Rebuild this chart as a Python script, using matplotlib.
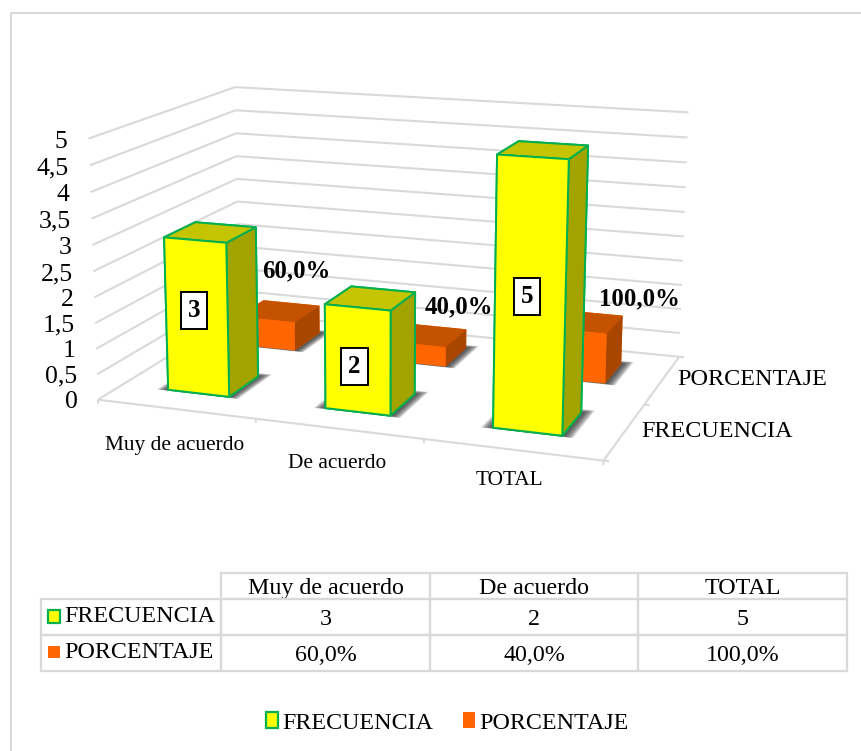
import numpy as np
import matplotlib
matplotlib.use('Agg')
import matplotlib.pyplot as plt
from matplotlib.patches import Patch, Rectangle
from mpl_toolkits.mplot3d.art3d import Poly3DCollection, Line3DCollection

# Data
categories = ['Muy de acuerdo', 'De acuerdo', 'TOTAL']
series_names = ['FRECUENCIA', 'PORCENTAJE']
frecuencia = [3, 2, 5]
porcentaje = [0.6, 0.4, 1.0]
frecuencia_labels = ['3', '2', '5']
porcentaje_labels = ['60,0%', '40,0%', '100,0%']
z_ticks = [0, 0.5, 1, 1.5, 2, 2.5, 3, 3.5, 4, 4.5, 5]
z_tick_labels = ['0', '0,5', '1', '1,5', '2', '2,5', '3', '3,5', '4', '4,5', '5']

W, H = 862, 751
plt.rcParams['font.family'] = ['Liberation Serif', 'DejaVu Serif']
GREY = '#d9d9d9'
YELLOW = ['#ffff00', '#c4c400', '#ffff00', '#ffff00', '#a3a300', '#a3a300']
ORANGE = ['#ff6600', '#c55200', '#ff6600', '#ff6600', '#a84600', '#a84600']
GREEN = '#00b050'

fig = plt.figure(figsize=(W / 100, H / 100), dpi=100, facecolor='white')
ax = fig.add_axes([0, 0, 1, 1], projection='3d')
ax.set_axis_off()
ax.computed_zorder = False
ax.patch.set_visible(False)

# Camera: least squares fit from the corners of the chart box to image pixels
n_cat, n_ser, z_max = len(categories), len(series_names), z_ticks[-1]
box = [(0, 0, 0, 100, 399), (n_cat, 0, 0, 603, 462), (n_cat, n_ser, 0, 680, 355),
       (0, n_ser, 0, 237, 314), (0, 0, z_max, 87, 138), (0, n_ser, z_max, 237, 87),
       (n_cat, n_ser, z_max, 688, 113)]
rows = []
for x, y, z, px, py in box:
    dy = (H - py) / 1000
    px = px / 1000
    rows.append([x, y, z, 1, 0, 0, 0, 0, -px * x, -px * y, -px * z, -px])
    rows.append([0, 0, 0, 0, x, y, z, 1, -dy * x, -dy * y, -dy * z, -dy])
P = np.linalg.svd(np.array(rows, dtype=float))[2][-1].reshape(3, 4)
if P[2, 3] < 0:
    P = -P
P = P / P[2, 3]
# depth grows away from the viewer, used only for sorting the faces
camera = np.array([P[0] * 1000, P[1] * 1000, P[2] - np.array([0, 0, 0, 0.5]), P[2]])


def get_proj():
    to_view = ax.transData.inverted().get_matrix()
    T = np.array([[to_view[0, 0], 0, 0, to_view[0, 2]],
                  [0, to_view[1, 1], 0, to_view[1, 2]],
                  [0, 0, 1, 0],
                  [0, 0, 0, 1]])
    return T @ camera


ax.get_proj = get_proj

# Overlay in pixel coordinates for the texts, frame and data table
ov = fig.add_axes([0, 0, 1, 1])
ov.set_xlim(0, W)
ov.set_ylim(H, 0)
ov.axis('off')
ov.patch.set_visible(False)


def label3d(x, y, z, s, **kw):
    # put a text at the image position of a chart coordinate
    v = np.array([x, y, z, 1.0])
    w = P[2] @ v
    ov.text(1000 * (P[0] @ v) / w, H - 1000 * (P[1] @ v) / w, s, color='black', **kw)


# Walls and floor
segs = []
for v in z_ticks:
    segs.append([(0, 0, v), (0, n_ser, v)])
    segs.append([(0, n_ser, v), (n_cat, n_ser, v)])
segs.append([(0, 0, 0), (n_cat, 0, 0)])
segs.append([(n_cat, 0, 0), (n_cat, n_ser, 0)])
for i in range(n_cat + 1):
    segs.append([(i, 0, 0), (i, 0, -0.08)])
for j in range(n_ser + 1):
    segs.append([(n_cat, j, 0), (n_cat + 0.03, j, 0)])
ax.add_collection3d(Line3DCollection(segs, colors=GREY, linewidths=1.5, zorder=1))

# z tick labels
for v, lab in zip(z_ticks, z_tick_labels):
    label3d(-0.135, 0, v - 0.09, lab, ha='right', va='center', fontsize=18.5)
# category and series labels
cat_z = [-0.72, -0.66, -0.58]
for i, name in enumerate(categories):
    label3d(i + 0.49, 0, cat_z[i], name, ha='center', va='center', fontsize=15.4)
ser_pos = [(3.09, 0.52), (3.085, 1.53)]
for name, (x, y) in zip(series_names, ser_pos):
    label3d(x, y, 0, name, ha='left', va='center', fontsize=17.4)


def draw_bar(i, row, h, colors, edge, z):
    x0, dx = i + 0.30, 0.395
    y0, dy = row + 0.31, 0.42
    # soft shadow on the floor
    for k in range(13):
        g = 0.005 * (13 - k)
        quad = [(x0 - g, y0 - g * 0.3), (x0 + dx + g, y0 - g * 0.3),
                (x0 + dx + g, y0 + dy + g), (x0 - g, y0 + dy + g)]
        poly = Poly3DCollection([[(a, b, 0) for a, b in quad]], facecolor='#303030',
                                edgecolor='none', alpha=0.12, zorder=z)
        ax.add_collection3d(poly)
    ec = edge if edge else 'none'
    ax.bar3d(x0, y0, 0, dx, dy, h, color=colors, edgecolor=ec,
             linewidth=1.4, shade=False, zorder=z + 0.5)
    return x0 + dx / 2, y0


for i, h in enumerate(porcentaje):
    draw_bar(i, 1, h, ORANGE, None, 3 + i)

box_z = [1.62, 0.86, 2.49]
label_offset = [(0.13, 0.92), (0.215, 0.68), (0.345, 0.58)]
for i, h in enumerate(frecuencia):
    xc, yf = draw_bar(i, 0, h, YELLOW, GREEN, 6 + i)
    label3d(xc - 0.018, yf, box_z[i], frecuencia_labels[i], ha='center', va='center',
            fontsize=18, fontweight='bold', zorder=10,
            bbox=dict(boxstyle='square,pad=0.28', fc='white', ec='black', lw=1.4))

for i, h in enumerate(porcentaje):
    ox, oz = label_offset[i]
    label3d(i + 0.5 + ox, 1.5, h + oz, porcentaje_labels[i], ha='center', va='center',
            fontsize=17.8, fontweight='bold', zorder=10)

ov.add_patch(Rectangle((11, 13), 860, 760, fc='none', ec=GREY, lw=1.5))

tx = [41, 221, 430, 638, 847]
ty = [573, 599, 635, 671]
cell_text = [[''] + categories,
             [series_names[0]] + frecuencia_labels,
             [series_names[1]] + porcentaje_labels]
heights = [ty[1] - ty[0], ty[2] - ty[1], ty[3] - ty[2]]
widths = [tx[i + 1] - tx[i] for i in range(4)]
table = ov.table(cellText=cell_text, cellLoc='center',
                 bbox=[tx[0] / W, 1 - ty[3] / H, (tx[4] - tx[0]) / W, (ty[3] - ty[0]) / H],
                 colWidths=[w / sum(widths) for w in widths])
table.auto_set_font_size(False)
for (r, c), cell in table.get_celld().items():
    cell.set_height(heights[r] / sum(heights))
    cell.set_edgecolor(GREY)
    cell.set_linewidth(1.6)
    cell.set_facecolor('none')
    cell.get_text().set_fontsize(17.3)
    cell.get_text().set_color('black')
    cell.get_text().set_va('center_baseline')
    if c == 0:
        cell.get_text().set_ha('left')
        cell.get_text().set_va('center')
        cell.PAD = 23 / widths[0]
    if r == 0 and c == 0:
        cell.set_edgecolor('none')

ov.add_patch(Rectangle((48, 610), 12, 13, fc='#ffff00', ec=GREEN, lw=1.6))
ov.add_patch(Rectangle((48, 646), 12, 12, fc='#ff6600', ec='none'))

handles = [Patch(facecolor='#ffff00', edgecolor=GREEN, lw=1.6),
           Patch(facecolor='#ff6600', edgecolor='none')]
ov.legend(handles, series_names, loc='center', bbox_to_anchor=(447, 723),
          bbox_transform=ov.transData, ncol=2, frameon=False, fontsize=17.3,
          handlelength=0.5, handleheight=0.6, handletextpad=0.17, columnspacing=1.25,
          labelcolor='black')

plt.savefig('out.png', dpi=100)
